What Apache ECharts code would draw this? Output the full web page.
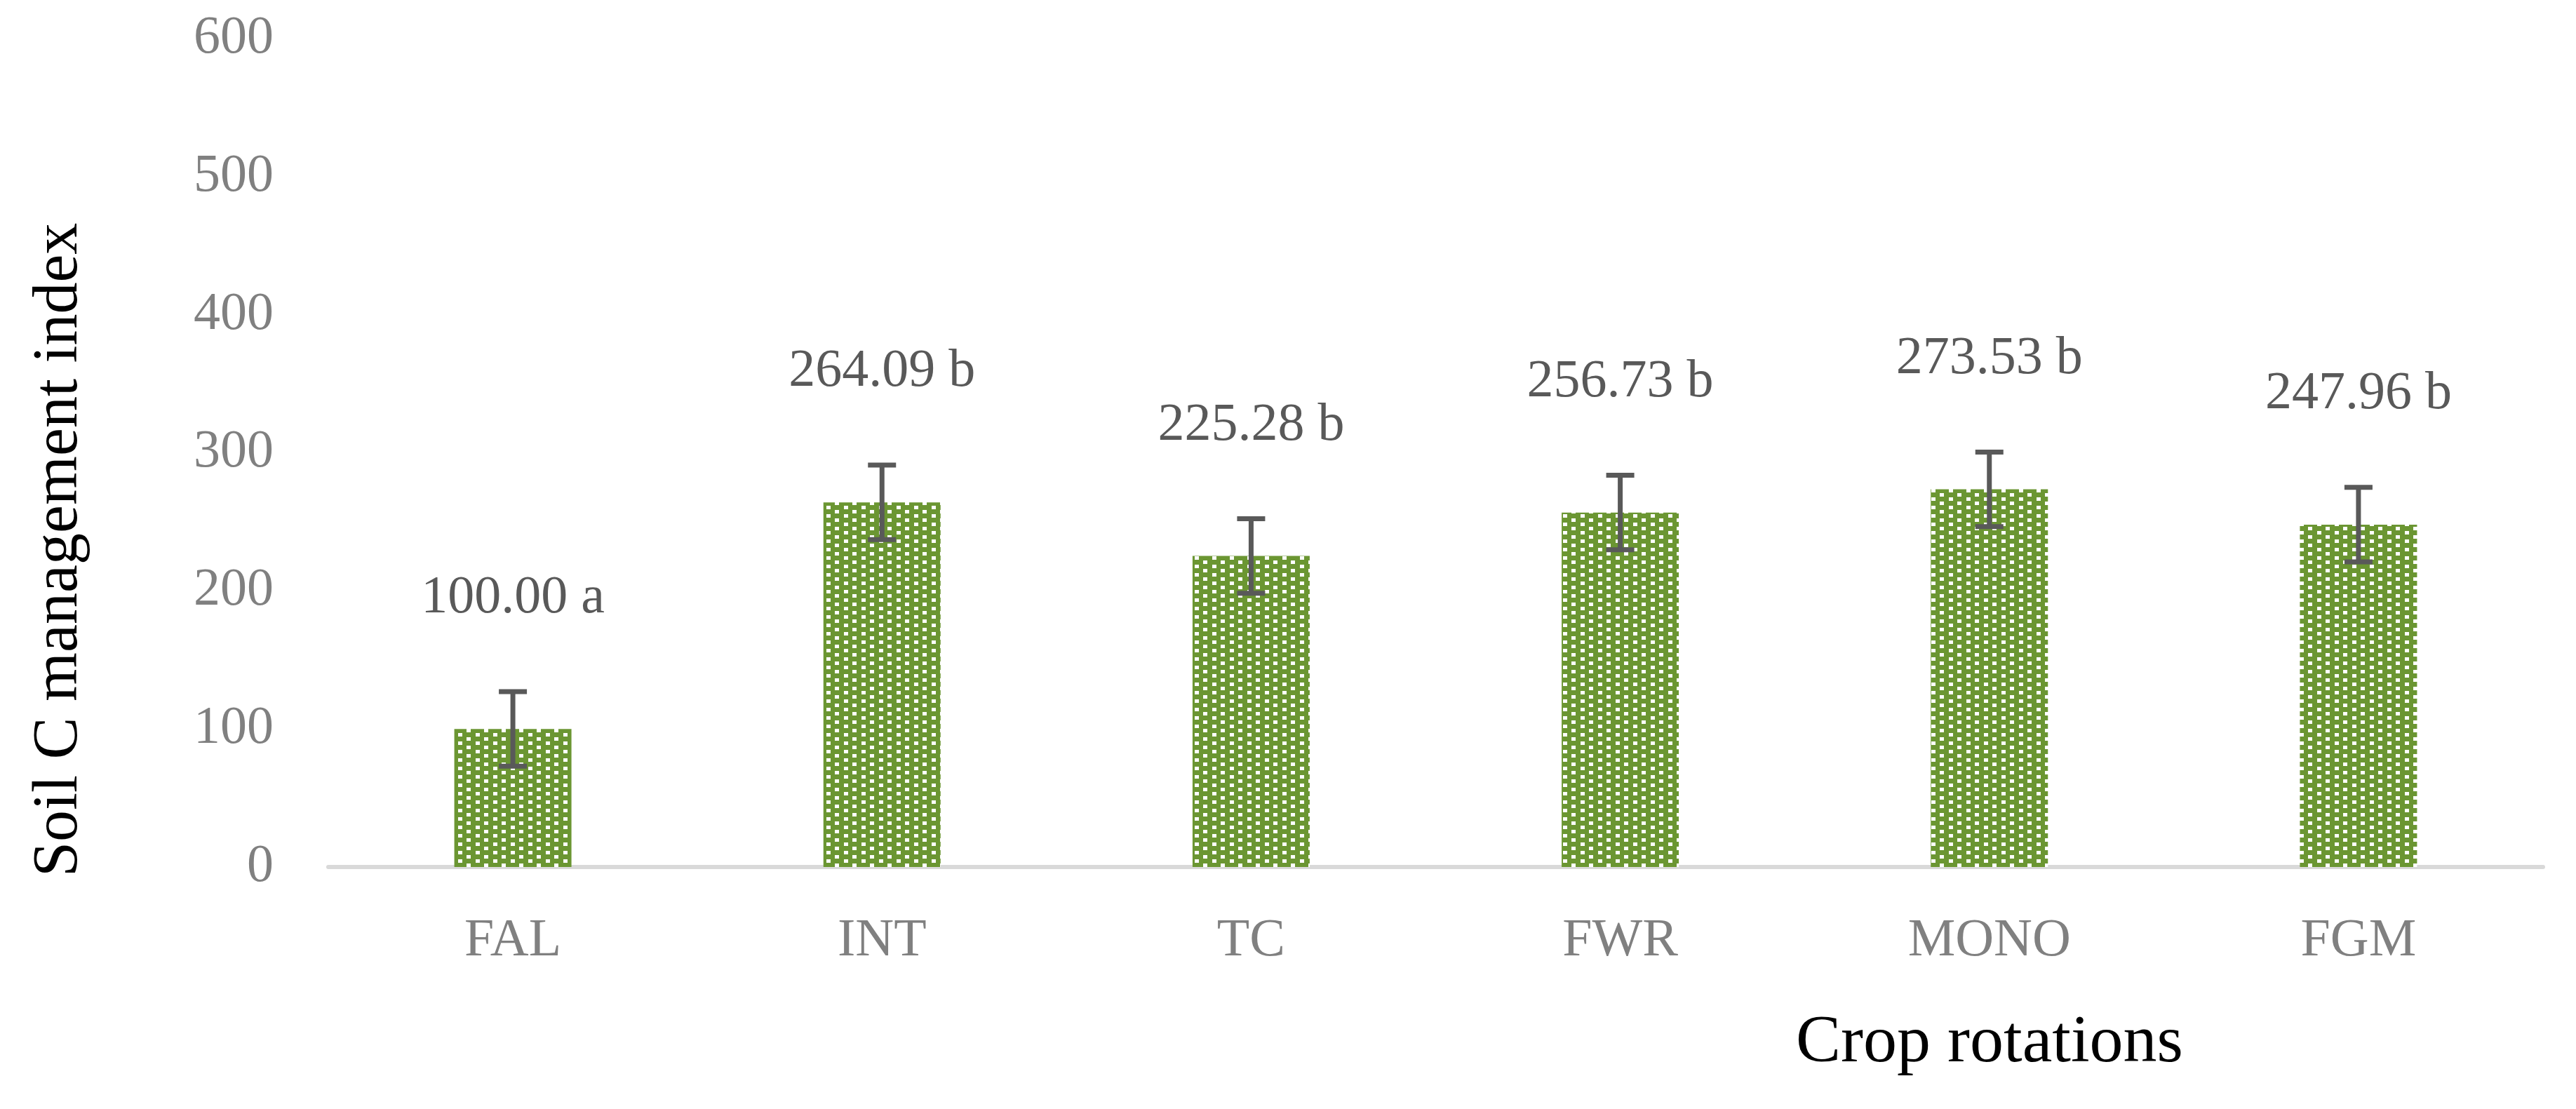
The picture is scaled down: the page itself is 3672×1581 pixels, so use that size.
<!DOCTYPE html>
<html>
<head>
<meta charset="utf-8">
<script src="https://cdn.jsdelivr.net/npm/echarts@6/dist/echarts.min.js"></script>
<style>html,body{margin:0;padding:0;background:#fff}#chart{width:3672px;height:1581px}</style>
</head>
<body>
<div id="chart"></div>
<script>
'use strict';

var categories = ['FAL', 'INT', 'TC', 'FWR', 'MONO', 'FGM'];
var values = [100.00, 264.09, 225.28, 256.73, 273.53, 247.96];
var errors = [27, 27, 27, 27, 27, 27];
var letters = ['a', 'b', 'b', 'b', 'b', 'b'];
var yTicks = { min: 0, max: 600, interval: 100 };

/** 点状填充 */
function makePattern() {
    var c = document.createElement('canvas');
    c.width = 25; c.height = 12;
    var ctx = c.getContext('2d');
    ctx.fillStyle = '#6b9632';
    ctx.fillRect(0, 0, 25, 12);
    ctx.fillStyle = '#ffffff';
    ctx.fillRect(3, 1, 6, 5);
    ctx.fillRect(15, 7, 6, 5);
    return c;
}

var chart = echarts.init(document.getElementById('chart'));
var font = '"Liberation Serif", "DejaVu Serif", serif';

var option = {
    animation: false,
    grid: { left: 468, right: 47, top: 55, bottom: 345, containLabel: false, outerBoundsMode: 'none' },
    graphic: [{
        type: 'text',
        left: 2560, top: 1440,
        style: { text: 'Crop rotations', fill: '#000', font: '96px ' + font }
    }, {
        type: 'text',
        x: 40, y: 1250,
        rotation: Math.PI / 2,
        style: { text: 'Soil C management index', fill: '#000', font: '90px ' + font }
    }],
    xAxis: {
        type: 'category',
        data: categories,
        axisTick: { show: false },
        axisLine: { lineStyle: { color: '#d9d9d9', width: 6 } },
        axisLabel: { color: '#808080', fontFamily: font, fontSize: 76, margin: 68 }
    },
    yAxis: {
        type: 'value',
        min: yTicks.min, max: yTicks.max, interval: yTicks.interval,
        splitLine: { show: false },
        axisLine: { show: false },
        axisTick: { show: false },
        axisLabel: { color: '#808080', fontFamily: font, fontSize: 76, margin: 78 }
    },
    series: [{
        type: 'bar',
        barWidth: 167,
        data: values,
        itemStyle: { color: { image: makePattern(), repeat: 'repeat' } },
        label: {
            show: true,
            position: 'top',
            distance: 148,
            color: '#595959',
            fontFamily: font,
            fontSize: 76,
            formatter: function (p) { return p.value.toFixed(2) + ' ' + letters[p.dataIndex]; }
        }
    }, {
        type: 'custom',
        data: values.map(function (v, i) { return [i, v - errors[i], v + errors[i]]; }),
        renderItem: function (params, api) {
            var lo = api.coord([api.value(0), api.value(1)]);
            var hi = api.coord([api.value(0), api.value(2)]);
            var hw = 20;
            var st = { stroke: '#595959', lineWidth: 7 };
            return {
                type: 'group',
                children: [
                    { type: 'line', shape: { x1: lo[0], y1: lo[1], x2: hi[0], y2: hi[1] }, style: st },
                    { type: 'line', shape: { x1: lo[0] - hw, y1: lo[1], x2: lo[0] + hw, y2: lo[1] }, style: st },
                    { type: 'line', shape: { x1: hi[0] - hw, y1: hi[1], x2: hi[0] + hw, y2: hi[1] }, style: st }
                ]
            };
        },
        z: 5
    }]
};
chart.setOption(option);
</script>
</body>
</html>
